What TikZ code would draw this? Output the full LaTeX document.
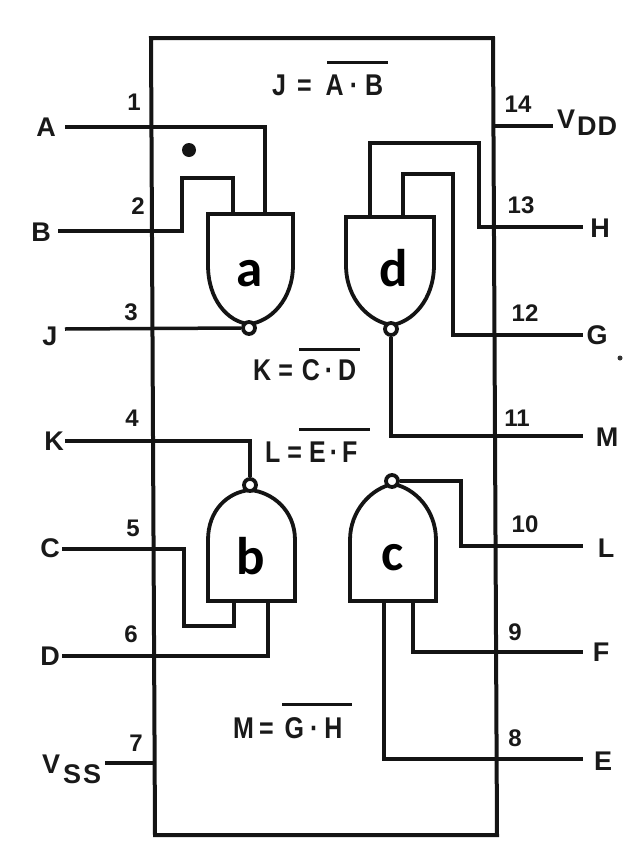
\documentclass[tikz,border=0pt]{standalone}
\usepackage{fontspec}
\setmainfont{Liberation Sans}
\newfontfamily\labelfont{Carlito}
\newcommand{\eqgap}[1]{\hspace{#1pt}}
\newcommand{\eqtall}[1]{\scalebox{1}[1.2]{#1}}
\begin{document}
\begin{tikzpicture}[x=1pt,y=-1pt,
  wire/.style={line width=3.5pt,black!92,line join=miter},
  gateshape/.style={line width=3.8pt,black!92,fill=white},
  bubble/.style={circle,draw=black!92,line width=3.8pt,fill=white,inner sep=0pt,minimum size=12pt},
  pinname/.style={font=\bfseries\fontsize{27}{27}\selectfont,text=black!90,inner sep=0pt},
  pinnum/.style={font=\bfseries\fontsize{24}{24}\selectfont,text=black!90,inner sep=0pt},
  eqn/.style={font=\bfseries\fontsize{25}{25}\selectfont,text=black!90,inner sep=0pt,anchor=base west},
  eqbar/.style={line width=3pt,black!92},
  gatename/.style={font=\labelfont\bfseries\fontsize{53}{53}\selectfont,inner sep=0pt,anchor=base}]
\useasboundingbox (0,0) rectangle (632,854);
\fill[white] (0,0) rectangle (632,854);
% chip outline
\draw[line width=4pt,black!92] (151,38) -- (493,38) -- (497,835) -- (155,835) -- cycle;
% free ends
\coordinate (pA) at (65,127); \coordinate (pB) at (58,231); \coordinate (pJ) at (65,329);
\coordinate (pK) at (65,441); \coordinate (pC) at (62,549); \coordinate (pD) at (62,656);
\coordinate (pV) at (105,763); \coordinate (pVDD) at (553,126); \coordinate (pH) at (583,227);
\coordinate (pG) at (583,335); \coordinate (pM) at (583,436); \coordinate (pL) at (583,546);
\coordinate (pF) at (583,652); \coordinate (pE) at (583,759);
\coordinate (vss) at (153,763); \coordinate (vdd) at (495,126);
% gates
\draw[gateshape] (208,214) -- (293,214) -- (293,265) .. controls (293,300) and (270,322) .. (249,324) .. controls (228,322) and (208,300) .. (208,265) -- cycle;
\draw[gateshape] (346,217) -- (434,217) -- (434,265) .. controls (434,300) and (412,322) .. (392,325) .. controls (370,322) and (346,300) .. (346,265) -- cycle;
\draw[gateshape] (208,601) -- (295,601) -- (295,540) .. controls (295,510) and (272,492) .. (250,490) .. controls (228,492) and (208,510) .. (208,540) -- cycle;
\draw[gateshape] (350,601) -- (436,601) -- (436,540) .. controls (436,510) and (415,488) .. (393,484) .. controls (372,488) and (350,510) .. (350,540) -- cycle;
\node[bubble] (ba) at (249,328) {};
\node[bubble] (bd) at (391,329) {};
\node[bubble] (bb) at (250,485) {};
\node[bubble] (bc) at (392,481) {};
\node[gatename] (a) at (250,286) {a};
\node[gatename] (d) at (394,286) {d};
\node[gatename] (b) at (251,574) {b};
\node[gatename] (c) at (393,570) {c};
% wires gate a
\draw[wire] (pA) -- (265,127) -- (265,214);
\draw[wire] (pB) -- (182,231) -- (182,178) -- (233,178) -- (233,214);
\draw[wire] (pJ) -- (ba.west);
% wires gate d
\draw[wire] (370,217) -- (370,143) -- (479,143) -- (479,227) -- (pH);
\draw[wire] (403,217) -- (403,174) -- (453,174) -- (453,335) -- (pG);
\draw[wire] (bd.south) -- (bd.south |- pM) -- (pM);
% wires gate b
\draw[wire] (pK) -- (bb.north |- pK) -- (bb.north);
\draw[wire] (pC) -- (184,549) -- (184,626) -- (234,626) -- (234,601);
\draw[wire] (pD) -- (268,656) -- (268,601);
% wires gate c
\draw[wire] (bc.east) -- (461,481) -- (461,546) -- (pL);
\draw[wire] (413,601) -- (413,652) -- (pF);
\draw[wire] (384,601) -- (384,759) -- (pE);
% power
\draw[wire] (pV) -- (vss);
\draw[wire] (vdd) -- (pVDD);
% dots
\node[circle,fill=black!92,inner sep=0pt,minimum size=14pt] (dot) at (189,150) {};
\node[circle,fill=black!80,inner sep=0pt,minimum size=5pt] (dot2) at (620,358) {};
% pin names
\node[pinname] (tA) at (46,127) {A};
\node[pinname] (tB) at (41,232) {B};
\node[pinname] (tJ) at (50,336) {J};
\node[pinname] (tK) at (54,441) {K};
\node[pinname] (tC) at (50,548) {C};
\node[pinname] (tD) at (50,656) {D};
\node[pinname,anchor=base west] (tV) at (42,773) {V\hspace{3pt}\raisebox{-10pt}{S\hspace{2pt}S}};
\node[pinname,anchor=base west] (tVDD) at (557,128) {V\hspace{2pt}\raisebox{-7pt}{D\hspace{1pt}D}};
\node[pinname] (tH) at (600,228) {H};
\node[pinname] (tG) at (597,335) {G};
\node[pinname] (tM) at (607,437) {M};
\node[pinname] (tL) at (606,548) {L};
\node[pinname] (tF) at (601,652) {F};
\node[pinname] (tE) at (603,761) {E};
% pin numbers
\node[pinnum] (n1) at (134,102) {1};
\node[pinnum] (n2) at (138,206) {2};
\node[pinnum] (n3) at (131,312) {3};
\node[pinnum] (n4) at (132,418) {4};
\node[pinnum] (n5) at (133,528) {5};
\node[pinnum] (n6) at (131,634) {6};
\node[pinnum] (n7) at (136,743) {7};
\node[pinnum] (n14) at (518,104) {14};
\node[pinnum] (n13) at (521,205) {13};
\node[pinnum] (n12) at (525,313) {12};
\node[pinnum] (n11) at (517,418) {11};
\node[pinnum] (n10) at (525,524) {10};
\node[pinnum] (n9) at (515,632) {9};
\node[pinnum] (n8) at (515,738) {8};
% equations
\node[eqn] (eJ) at (272,95) {\eqtall{J\eqgap{11}=\eqgap{14}A\eqgap{6}·\eqgap{7}B}};
\draw[eqbar] (327,62) -- (388,62);
\node[eqn] (eK) at (253,380) {\eqtall{K\eqgap{7}=\eqgap{9}C\eqgap{5}·\eqgap{5}D}};
\draw[eqbar] (299,349) -- (360,349);
\node[eqn] (eL) at (265,462) {\eqtall{L\eqgap{7}=\eqgap{7}E\eqgap{4}·\eqgap{4}F}};
\draw[eqbar] (299,429) -- (370,429);
\node[eqn] (eM) at (233,738) {\eqtall{M\eqgap{5}=\eqgap{11}G\eqgap{6}·\eqgap{6}H}};
\draw[eqbar] (282,704) -- (352,704);
\end{tikzpicture}
\end{document}
